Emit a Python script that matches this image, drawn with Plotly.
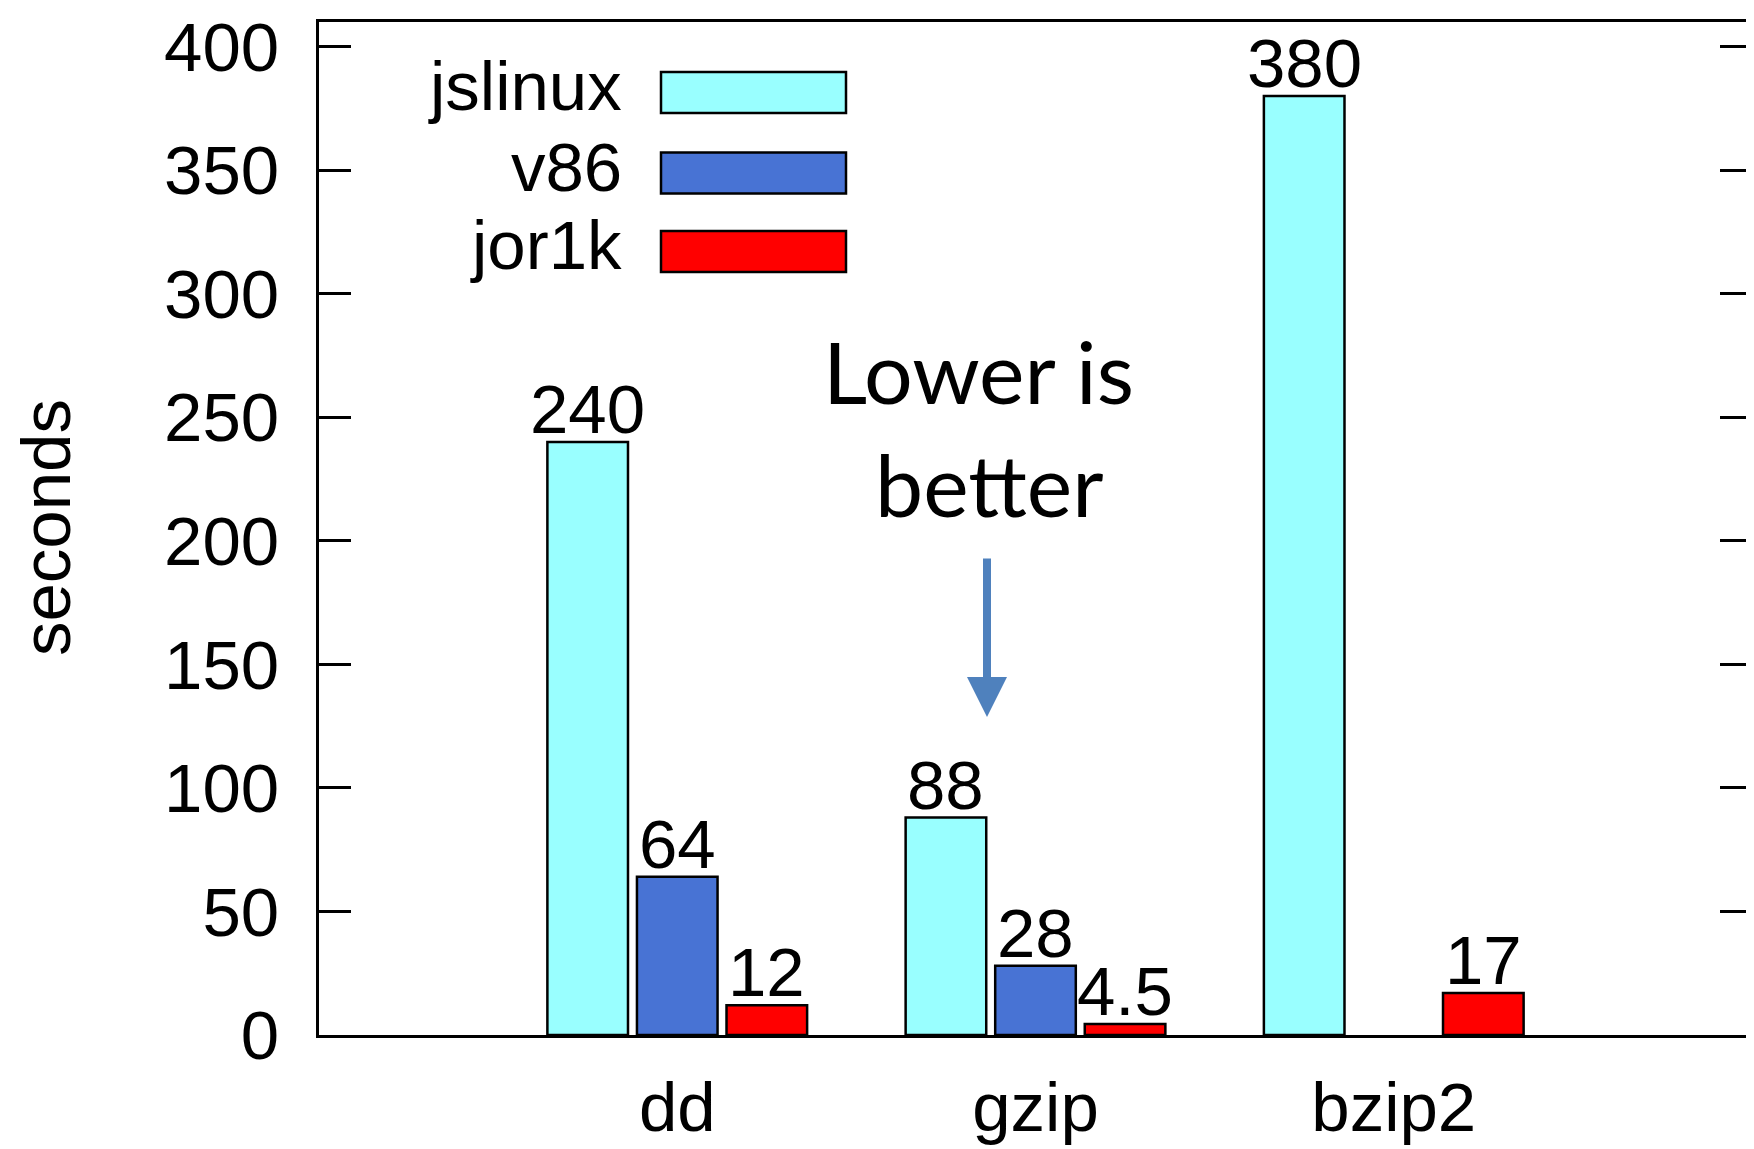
import plotly.graph_objects as go

# ---- data ----
categories = ["dd", "gzip", "bzip2"]
series_names = ["jslinux", "v86", "jor1k"]
jslinux = [240, 88, 380]
v86 = [64, 28, None]
jor1k = [12, 4.5, 17]
series_values = [jslinux, v86, jor1k]
series_colors = ["#99ffff", "#4873d4", "#ff0000"]
y_ticks = [0, 50, 100, 150, 200, 250, 300, 350, 400]
y_title = "seconds"
note_lines = ["Lower is", "better"]

# ---- geometry (page pixels; the page body has an 8px margin) ----
OFF = 8
PAGE_W, PAGE_H = 1754, 1149
W, H = PAGE_W - OFF, PAGE_H - OFF
PLOT_X0, PLOT_X1, PLOT_Y0, PLOT_Y1 = 319, 1752, 22, 1035
L, T = PLOT_X0 - OFF, PLOT_Y0 - OFF
R, B = W - (PLOT_X1 - OFF), H - (PLOT_Y1 - OFF)
PW, PH = PLOT_X1 - PLOT_X0, PLOT_Y1 - PLOT_Y0


def px(x):
    return (x - PLOT_X0) / PW


def py(y):
    return 1 - (y - PLOT_Y0) / PH


FONT = "Liberation Sans, Arial, sans-serif"
FS = 69
BARGAP, BARGROUPGAP = 0.25, 0.1

fig = go.Figure()
n_series = len(series_names)
slot = (1 - BARGAP) / n_series
annotations = []
for j, (name, vals, col) in enumerate(zip(series_names, series_values, series_colors)):
    fig.add_trace(go.Bar(
        x=categories, y=vals, name=name,
        marker=dict(color=col, line=dict(color="black", width=2.5)),
        showlegend=False,
    ))
    # value labels just above each bar
    for i, v in enumerate(vals):
        if v is None:
            continue
        annotations.append(dict(
            text=f"{v:g}", xref="x", yref="y",
            x=i + (j - (n_series - 1) / 2) * slot, y=v,
            xanchor="center", yanchor="bottom", yshift=-8, showarrow=False,
            font=dict(family=FONT, size=FS, color="black")))

# legend drawn gnuplot-style: label on the left, sample box on the right
row_centers = [92.5, 173, 251.5]
sw_x0, sw_x1, sw_h = 661, 846, 41
text_right = 624
shapes = []
for name, col, yc in zip(series_names, series_colors, row_centers):
    shapes.append(dict(type="rect", xref="paper", yref="paper",
                       x0=px(sw_x0), x1=px(sw_x1),
                       y0=py(yc + sw_h / 2), y1=py(yc - sw_h / 2),
                       fillcolor=col, line=dict(color="black", width=2.5)))
    annotations.append(dict(text=name, xref="paper", yref="paper",
                            x=px(text_right), y=py(yc - 6), xanchor="right", yanchor="middle",
                            showarrow=False, font=dict(family=FONT, size=FS, color="black")))

# y-axis title
annotations.append(dict(text=y_title, xref="paper", yref="paper", x=px(46), y=py(528),
                        textangle=-90, xanchor="center", yanchor="middle", showarrow=False,
                        font=dict(family=FONT, size=FS, color="black")))

# "Lower is better" note with arrow
NOTE_FONT = "Lato, Open Sans, sans-serif"
annotations.append(dict(text=note_lines[0], xref="paper", yref="paper", x=px(978), y=py(370),
                        xanchor="center", yanchor="middle", showarrow=False,
                        font=dict(family=NOTE_FONT, size=86, color="black")))
annotations.append(dict(text=note_lines[1], xref="paper", yref="paper", x=px(989), y=py(483),
                        xanchor="center", yanchor="middle", showarrow=False,
                        font=dict(family=NOTE_FONT, size=86, color="black")))
annotations.append(dict(text="", xref="paper", yref="paper", x=px(987), y=py(717),
                        ax=0, ay=-160, axref="pixel", ayref="pixel", showarrow=True,
                        arrowhead=2, arrowsize=1, arrowwidth=8, arrowcolor="#4f81bd"))

fig.update_layout(
    width=W, height=H,
    margin=dict(l=L, r=R, t=T, b=B, autoexpand=False),
    paper_bgcolor="white", plot_bgcolor="white",
    barmode="group", bargap=BARGAP, bargroupgap=BARGROUPGAP,
    shapes=shapes, annotations=annotations,
    font=dict(family=FONT, size=FS, color="black"),
    xaxis=dict(type="category", categoryorder="array", categoryarray=categories,
               range=[-1, 3], showline=True, linecolor="black", linewidth=3, mirror=True,
               ticks="", showgrid=False, zeroline=False,
               tickfont=dict(family=FONT, size=FS, color="black"), ticklabelstandoff=10),
    yaxis=dict(range=[0, 410], tickmode="array", tickvals=y_ticks,
               ticktext=[str(v) for v in y_ticks], ticklabeloverflow="allow",
               showline=True, linecolor="black", linewidth=3, mirror="ticks",
               ticks="inside", ticklen=32, tickwidth=2.5, tickcolor="black",
               showgrid=False, zeroline=False,
               tickfont=dict(family=FONT, size=FS, color="black"), ticklabelstandoff=23),
)

fig.write_html("out.html")
